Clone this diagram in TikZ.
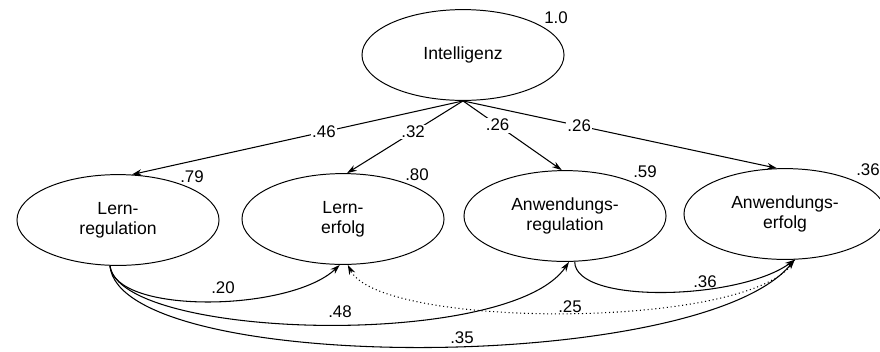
\documentclass[tikz,border=0pt]{standalone}
\usepackage{fontspec}
\setmainfont{Liberation Sans}
\usepackage{tikz}
\usetikzlibrary{arrows.meta,positioning,shapes.geometric}
\tikzset{%
	latent/.style = {draw, ellipse, line width=0.7pt, minimum width=5.05cm, minimum height=2.27cm, align=center, font=\fontsize{12.5}{14.5}\selectfont},
	arrow/.style  = {line width=0.75pt, -{Stealth[length=7pt,width=4.5pt]}},
	coef/.style   = {font=\fontsize{12}{14}\selectfont, inner sep=1pt},
	oncoef/.style = {coef, fill=white},
}
\begin{document}
\begin{tikzpicture}[x=0.025cm,y=-0.025cm]
	\useasboundingbox (0,0) rectangle (880,351);
	% latent variables
	\node[latent] (intel) at (463,55) {Intelligenz};
	\node[latent] (lr) at (118,220) {Lern-\\regulation};
	\node[latent] (le) at (343,219) {Lern-\\erfolg};
	\node[latent] (ar) at (565,216) {Anwendungs-\\regulation};
	\node[latent] (ae) at (785,214) {Anwendungs-\\erfolg};
	% residual variances
	\node[coef] (r1) at (556,18) {1.0};
	\node[coef] (r2) at (192,177) {.79};
	\node[coef] (r3) at (417,175) {.80};
	\node[coef] (r4) at (645,172) {.59};
	\node[coef] (r5) at (868,170) {.36};
	% paths from Intelligenz
	\draw[arrow] (intel.south) -- node[oncoef,pos=0.42] {.46} (lr.73);
	\draw[arrow] (intel.south) -- node[oncoef,pos=0.43] {.32} (le.85);
	\draw[arrow] (intel.south) -- node[oncoef,pos=0.35] {.26} (ar.94);
	\draw[arrow] (intel.south) -- node[oncoef,pos=0.37] {.26} (ae.100);
	% paths between the outcomes
	\draw[arrow] (lr.260) .. controls (115,315) and (290,312) .. (le.266);
	\draw[arrow] (lr.260) .. controls (120,340) and (510,350) .. (ar.275);
	\draw[arrow] (lr.260) .. controls (120,375) and (700,375) .. (ae.282);
	\draw[arrow] (ar.282) .. controls (575,305) and (740,300) .. (ae.282);
	\draw[arrow,dotted] (ae.282) .. controls (760,330) and (380,330) .. (le.276);
	% path coefficients
	\node[coef] (c20) at (223,288) {.20};
	\node[coef] (c48) at (340,312) {.48};
	\node[coef] (c25) at (570,307) {.25};
	\node[coef] (c36) at (705,282) {.36};
	\node[coef] (c35) at (462,338) {.35};
\end{tikzpicture}
\end{document}
